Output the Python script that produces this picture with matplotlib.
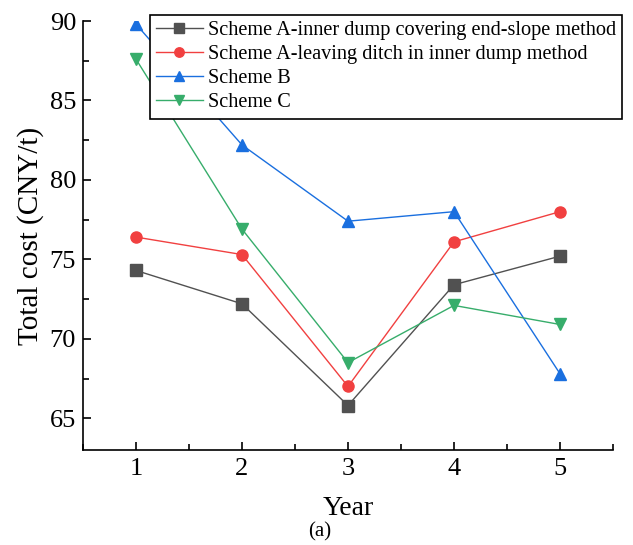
import matplotlib
matplotlib.use("Agg")
import matplotlib.pyplot as plt
from matplotlib.ticker import MultipleLocator

years = [1, 2, 3, 4, 5]
scheme_a_inner = [74.3, 72.2, 65.8, 73.4, 75.2]
scheme_a_ditch = [76.4, 75.3, 67.0, 76.1, 78.0]
scheme_b = [89.8, 82.2, 77.4, 78.0, 67.8]
scheme_c = [87.6, 76.9, 68.5, 72.1, 70.9]
labels = ["Scheme A-inner dump covering end-slope method",
          "Scheme A-leaving ditch in inner dump method",
          "Scheme B", "Scheme C"]

plt.rcParams['font.family'] = ['Liberation Serif', 'DejaVu Serif']

fig = plt.figure(figsize=(6.33, 5.45), dpi=100)
ax = fig.add_axes([83/633, 1 - 450/545, (613-83)/633, (450-21)/545])

series = [scheme_a_inner, scheme_a_ditch, scheme_b, scheme_c]
colors = ['#515151', '#F14040', '#1A6FDF', '#37AD6B']
markers = ['s', 'o', '^', 'v']
for vals, c, m, lab in zip(series, colors, markers, labels):
    ax.plot(years, vals, color=c, marker=m, markersize=8, linewidth=1, label=lab)

ax.set_xlim(0.5, 5.5)
ax.set_ylim(63, 90)
ax.xaxis.set_major_locator(MultipleLocator(1))
ax.xaxis.set_minor_locator(MultipleLocator(0.5))
ax.yaxis.set_major_locator(MultipleLocator(5))
ax.yaxis.set_minor_locator(MultipleLocator(2.5))
ax.spines['top'].set_visible(False)
ax.spines['right'].set_visible(False)
for s in ['left', 'bottom']:
    ax.spines[s].set_linewidth(1.2)
ax.tick_params(which='major', direction='in', length=6, width=1.2, labelsize=19, pad=6)
ax.tick_params(axis='y', which='major', pad=5)
ax.tick_params(which='minor', direction='in', length=4, width=1.2)
ax.set_xlabel('Year', fontsize=20, labelpad=11)
ax.set_ylabel('Total cost (CNY/t)', fontsize=21, labelpad=4)

leg = ax.legend(loc='upper left', bbox_to_anchor=(150/633, 1 - 15/545),
                bbox_transform=fig.transFigure, fontsize=14.6, frameon=True,
                fancybox=False, edgecolor='black', framealpha=1,
                handlelength=2.3, borderpad=0.3, labelspacing=0.24,
                handletextpad=0.25, borderaxespad=0, markerscale=0.85)
leg.get_frame().set_linewidth(1.2)

fig.text(320/633, 1 - 532/545, '(a)', fontsize=15, ha='center', va='center')

fig.savefig('out.png', dpi=100)
